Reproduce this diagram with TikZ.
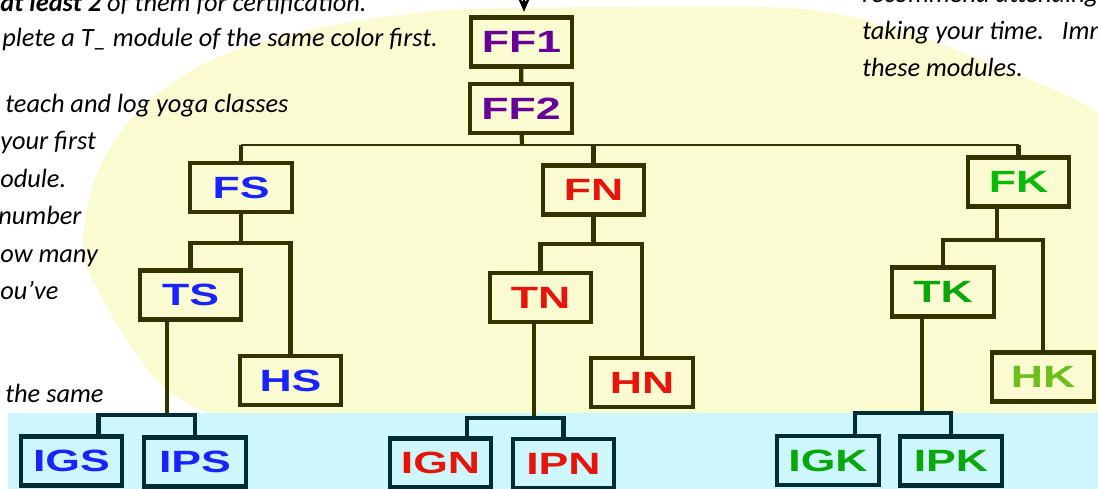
\documentclass[tikz,border=0pt]{standalone}
\usepackage{fontspec}
\usepackage{graphicx}
\usetikzlibrary{positioning,arrows.meta,calc}
\newfontfamily\notefont{Carlito}
\newfontfamily\modfont{Liberation Sans}
\definecolor{pale}{RGB}{250,251,208}
\definecolor{ice}{RGB}{205,247,252}
\definecolor{rim}{RGB}{51,51,0}
\definecolor{rimI}{RGB}{0,45,50}
\definecolor{plum}{RGB}{102,0,153}
\definecolor{royal}{RGB}{25,35,255}
\definecolor{scarlet}{RGB}{230,20,10}
\definecolor{leaf}{RGB}{10,185,10}
\definecolor{moss}{RGB}{110,190,30}
\newcommand{\wide}[1]{\scalebox{1.45}[1]{#1}}

\begin{document}
\begin{tikzpicture}[
  x=0.02cm, y=-0.02cm,
  mod/.style={draw=rim, fill=pale, line width=2.5pt, minimum width=2.03cm,
              minimum height=0.98cm, inner sep=0pt,
              font=\modfont\bfseries\fontsize{17.5}{17.5}\selectfont},
  modI/.style={mod, draw=rimI, fill=ice},
  link/.style={draw=rim, line width=2.4pt},
  bus/.style={draw=rim, line width=1.5pt},
  arr/.style={-{Stealth[length=8pt,width=7pt]}, thick, shorten >=2pt},
  note/.style={font=\notefont\itshape\fontsize{15}{15}\selectfont,
               anchor=base west, inner sep=0pt}
]
  \useasboundingbox (0,0) rectangle (1098,489);
  \clip (0,0) rectangle (1098,489);
  % background areas
  \fill[pale] plot[smooth cycle, tension=0.6] coordinates {
    (83,250) (90,195) (110,148) (150,100) (212,60) (300,32) (390,16) (470,9)
    (640,7) (800,9) (900,30) (1000,68) (1098,113) (1200,200) (1260,330)
    (1200,440) (800,470) (320,450) (220,418) (165,388) (127,340) (98,290)};
  \fill[ice] (8,413) rectangle (1098,489);
  % text around the chart
  \node[note] (n1) at (0,12)   {\textbf{at least 2} of them for certification.};
  \node[note] (n2) at (2,47)   {plete a T\_ module of the same color first.};
  \node[note] (n3) at (5,113)  {teach and log yoga classes};
  \node[note] (n4) at (0,150)  {your first};
  \node[note] (n5) at (0,188)  {odule.};
  \node[note] (n6) at (-2,225) {number};
  \node[note] (n7) at (0,263)  {ow many};
  \node[note] (n8) at (0,300)  {ou’ve};
  \node[note] (n9) at (5,402)  {the same};
  \node[note] (r1) at (862,3)  {recommend attending};
  \node[note] (r2) at (862,40) {taking your time.\ \ \ Imm};
  \node[note] (r3) at (862,77) {these modules.};
  % modules
  \node[mod, text=plum]    (FF1) at (521.5,42)    {\wide{FF1}};
  \node[mod, text=plum]    (FF2) at (521,108.5)   {\wide{FF2}};
  \node[mod, text=royal]   (FS)  at (241,187.5)   {\wide{FS}};
  \node[mod, text=scarlet] (FN)  at (593.5,190)   {\wide{FN}};
  \node[mod, text=leaf]    (FK)  at (1018.5,182)  {\wide{FK}};
  \node[mod, text=royal]   (TS)  at (190.5,295)   {\wide{TS}};
  \node[mod, text=royal]   (HS)  at (290.5,380.5) {\wide{HS}};
  \node[mod, text=scarlet] (TN)  at (540.5,297.5) {\wide{TN}};
  \node[mod, text=scarlet] (HN)  at (642,382.5)   {\wide{HN}};
  \node[mod, text=leaf!90!black] (TK) at (943,292) {\wide{TK}};
  \node[mod, text=moss]    (HK)  at (1043,377)    {\wide{HK}};
  \node[modI, text=royal]   (IGS) at (71.5,461)   {\wide{IGS}};
  \node[modI, text=royal]   (IPS) at (195,462)    {\wide{IPS}};
  \node[modI, text=scarlet] (IGN) at (440.5,463)  {\wide{IGN}};
  \node[modI, text=scarlet] (IPN) at (563.5,463.5) {\wide{IPN}};
  \node[modI, text=leaf!90!black] (IGK) at (828,460.5) {\wide{IGK}};
  \node[modI, text=leaf!90!black] (IPK) at (951,461)   {\wide{IPK}};
  % connectors
  \coordinate (top) at (524,-12);
  \draw[arr] (top) -- (top |- FF1.north);
  \draw[link] (FF1) -- (FF2);
  \coordinate (busF) at (522,145);
  \draw[link] (FF2) -- (busF);
  \draw[bus] (FS.north |- busF) -- (FK.north |- busF);
  \draw[link] (FS.north) -- (FS.north |- busF);
  \draw[link] (FK.north) -- (FK.north |- busF);
  \draw[link] (FN.north) -- (FN.north |- busF);
  % S branch
  \coordinate (subS) at (245,243);
  \draw[link] (FS.south) -- (FS.south |- subS);
  \draw[link] (TS.north) |- (HS.north |- subS) -- (HS.north);
  \coordinate (gS) at (167,415);
  \draw[link] (TS.south -| gS) -- (gS);
  \draw[link, draw=rimI] ($(IGS.north)+(27,0)$) |- (gS) -| (IPS.north);
  % N branch
  \coordinate (subN) at (597,244);
  \draw[link] (FN.south) -- (FN.south |- subN);
  \draw[link] (TN.north) |- (HN.north |- subN) -- (HN.north);
  \coordinate (gN) at (534,418);
  \draw[link] (TN.south -| gN) -- (gN);
  \draw[link, draw=rimI] ($(IGN.north)+(26.5,0)$) |- (gN) -| (IPN.north);
  % K branch
  \coordinate (subK) at (997,240);
  \draw[link] (FK.south -| subK) -- (subK);
  \draw[link] (TK.north) |- (HK.north |- subK) -- (HK.north);
  \coordinate (gK) at (922,413);
  \draw[link] (TK.south -| gK) -- (gK);
  \draw[link, draw=rimI] ($(IGK.north)+(27,0)$) |- (gK) -| (IPK.north);
\end{tikzpicture}
\end{document}
